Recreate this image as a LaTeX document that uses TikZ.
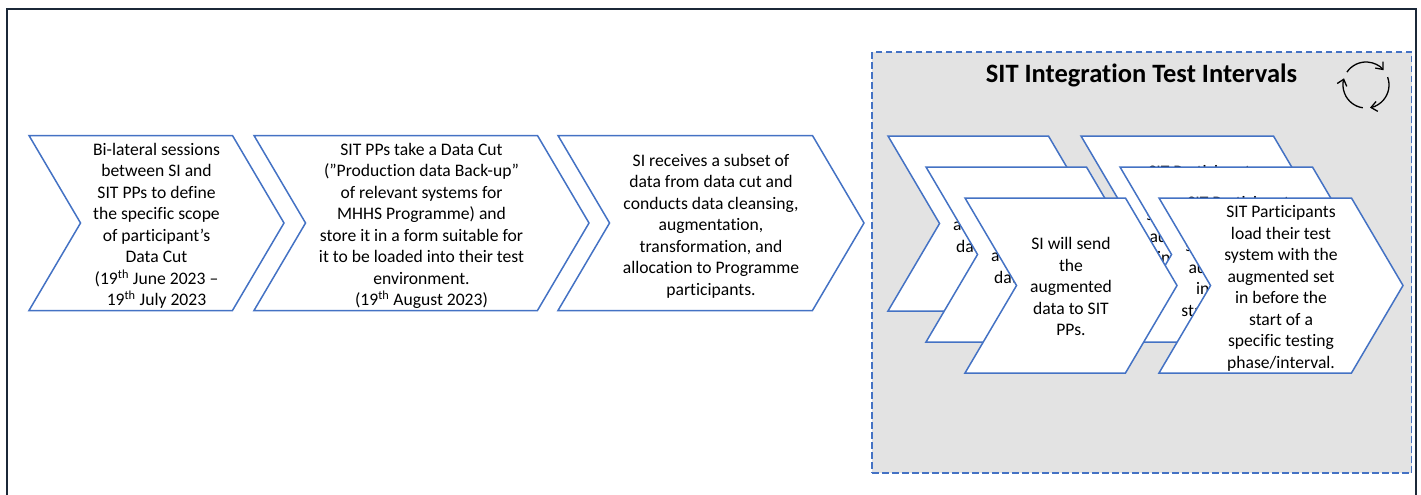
\documentclass[tikz,border=0pt]{standalone}
\usepackage{fontspec}
\setmainfont{Carlito}[Ligatures=NoCommon]
\usetikzlibrary{shapes.symbols,arrows.meta}
\definecolor{chevblue}{HTML}{4472C4}
\definecolor{panelgrey}{HTML}{E3E3E3}
\definecolor{framedark}{HTML}{1B2838}
\newcommand{\sendtext}{SI will send\\the\\augmented\\data to SIT\\PPs.}
\newcommand{\loadtext}{SIT Participants\\load their test\\system with the\\augmented set\\in before the\\start of a\\specific testing\\phase/interval.}
\newcommand{\loadbacktext}{SIT Participants\\load their test\\system with the\\augmented set\\in before the\\start of a specific\\testing\\phase/interval.}
\begin{document}
\begin{tikzpicture}[x=1pt,y=-1pt]
        \tikzset{stage/.style = {shape=signal,signal from=west,signal to=east,signal pointer angle=119,draw=chevblue,line width=1.5pt,fill=white,outer sep=0pt,inner sep=0pt,minimum height=175pt,minimum width=255pt}}
        \tikzset{stagetext/.style = {inner sep=0pt,align=center,font=\fontsize{17.6}{21.5}\selectfont}}
        \tikzset{icon/.style = {line width=1.3pt,-{Straight Barb[length=6pt,width=10pt]}}}
        \useasboundingbox (0,0) rectangle (1421,495);
        % outer frame, its bottom edge is cut off
        \draw[framedark,line width=2pt] (7,520) -- (7,9) -- (1416,9) -- (1416,520);
        % interval panel
        \node[draw=chevblue,dash pattern=on 6.5pt off 3.5pt,line width=1.2pt,fill=panelgrey,minimum width=539.5pt,minimum height=421pt,outer sep=0pt] (panel) at (1141.75,262.5) {};
        \node[font=\fontsize{26.5}{30}\selectfont\bfseries] (title) at (1141.5,75) {SIT Integration Test Intervals};
        % icon
        \coordinate (icon centre) at (1366,85);
        \draw[icon] (icon centre) ++(-146:23) arc (-146:-40:23);
        \draw[icon] (icon centre) ++(-20:23) arc (-20:80:23);
        \draw[icon] (icon centre) ++(98:23) arc (98:197:23);
        % stages on the left
        \node[stage] (cut scope) at (156.5,223) {};
        \node[stagetext] (cut scope text) at (156.5,226) {Bi-lateral sessions\\between SI and\\SIT PPs to define\\the specific scope\\of participant’s\\Data Cut\\(19\textsuperscript{th} June 2023 –\\19\textsuperscript{th} July 2023};
        \node[stage,minimum width=335pt] (cut backup) at (421.5,223) {};
        \node[stagetext] (cut backup text) at (421.5,226) {SIT PPs take a Data Cut\\(”Production data Back-up”\\of relevant systems for\\MHHS Programme) and\\store it in a form suitable for\\it to be loaded into their test\\environment.\\(19\textsuperscript{th} August 2023)};
        \node[stage,minimum width=306pt] (cleansing) at (711,223) {};
        \node[stagetext] (cleansing text) at (711,226) {SI receives a subset of\\data from data cut and\\conducts data cleansing,\\augmentation,\\transformation, and\\allocation to Programme\\participants.};
        % load stages at the back
        \node[stage,minimum width=244pt] (load a) at (1203,223.5) {};
        \node[stagetext] (load a text) at (1203,248.5) {\loadbacktext};
        \node[stage,minimum width=244pt] (load b) at (1242,254.5) {};
        \node[stagetext] (load b text) at (1242,279.5) {\loadbacktext};
        % send stages, back to front
        \node[stage,minimum width=212pt] (send a) at (994,223.5) {};
        \node[stagetext] (send a text) at (994,224.5) {\sendtext};
        \node[stage,minimum width=212pt] (send b) at (1032,254.5) {};
        \node[stagetext] (send b text) at (1032,255.5) {\sendtext};
        \node[stage,minimum width=212pt] (send c) at (1071,285.5) {};
        \node[stagetext] (send c text) at (1071,286.5) {\sendtext};
        % load stage in front
        \node[stage,minimum width=244pt] (load c) at (1281,285.5) {};
        \node[stagetext] (load c text) at (1281,288.5) {\loadtext};
\end{tikzpicture}
\end{document}
